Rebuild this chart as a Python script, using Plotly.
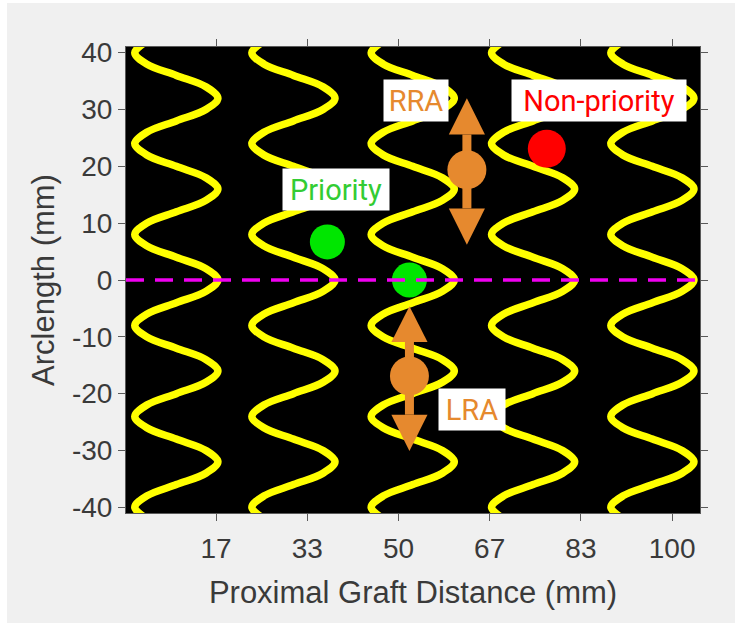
import plotly.graph_objects as go

# ---------------- data (mm) ----------------
ring_centers_mm = [9.4, 30.8, 52.6, 74.6, 96.4]
ring_y_mm = [-42, -40, -38, -36, -34, -32, -30, -28, -26, -24, -22, -20, -18, -16, -14,
             -12, -10, -8, -6, -4, -2, 0, 2, 4, 6, 8, 10, 12, 14, 16, 18, 20, 22, 24,
             26, 28, 30, 32, 34, 36, 38, 40, 42]
ring_offset_mm = [-5.4, -7.6, -5.4, 0.0, 5.4, 7.6, 5.4, 0.0, -5.4, -7.6, -5.4, 0.0, 5.4,
                  7.6, 5.4, 0.0, -5.4, -7.6, -5.4, 0.0, 5.4, 7.6, 5.4, 0.0, -5.4, -7.6,
                  -5.4, 0.0, 5.4, 7.6, 5.4, 0.0, -5.4, -7.6, -5.4, 0.0, 5.4, 7.6, 5.4,
                  0.0, -5.4, -7.6, -5.4]

priority_x = [37.0, 52.0]
priority_y = [6.7, 0.0]
nonpriority_x = [77.1]
nonpriority_y = [23.1]

renal_names = ["RRA", "LRA"]
renal_x = [62.5, 52.0]
renal_y = [19.4, -16.9]
renal_up_tip = [32.0, -4.6]
renal_up_base = [25.6, -10.9]
renal_down_tip = [6.2, -30.1]
renal_down_base = [12.6, -23.7]

x_tick_vals = [100 / 6, 200 / 6, 50.0, 400 / 6, 500 / 6, 100.0]
x_tick_text = ["17", "33", "50", "67", "83", "100"]
y_tick_vals = [-40, -30, -20, -10, 0, 10, 20, 30, 40]
y_tick_text = ["-40", "-30", "-20", "-10", "0", "10", "20", "30", "40"]

labels_text = ["Priority", "RRA", "Non-priority", "LRA"]
labels_x = [38.65, 53.2, 86.6, 63.5]
labels_y = [15.9, 31.5, 31.5, -22.8]

x_range = [0.2, 105.1]
y_range = [-41.0, 41.0]

# ---------------- styles ----------------
YELLOW = "#ffff00"
MAGENTA = "#f000f0"
GREEN = "#00e600"
RED = "#ff0000"
ORANGE = "#e6892e"
label_colors = ["#33cc33", ORANGE, RED, ORANGE]
label_widths = [106, 64, 174, 66]
HEAD_HALF_W = 3.3
AX_FONT = "Liberation Sans, Arial, Helvetica, sans-serif"
TXT = "#3a3a3a"

fig = go.Figure()

for c in ring_centers_mm:
    fig.add_trace(go.Scatter(
        x=[c + o for o in ring_offset_mm], y=ring_y_mm, mode="lines",
        line=dict(color=YELLOW, width=7.5, shape="spline", smoothing=1.0),
        hoverinfo="skip", showlegend=False))

# renal arteries: shafts, heads, centre dots
for i in range(len(renal_names)):
    cx = renal_x[i]
    fig.add_trace(go.Scatter(
        x=[cx, cx], y=[renal_down_base[i], renal_up_base[i]], mode="lines",
        line=dict(color=ORANGE, width=9), showlegend=False, hoverinfo="skip"))
    for tip, base in ((renal_up_tip[i], renal_up_base[i]),
                      (renal_down_tip[i], renal_down_base[i])):
        fig.add_trace(go.Scatter(
            x=[cx - HEAD_HALF_W, cx + HEAD_HALF_W, cx, cx - HEAD_HALF_W],
            y=[base, base, tip, base], mode="lines", fill="toself",
            fillcolor=ORANGE, line=dict(color=ORANGE, width=0),
            showlegend=False, hoverinfo="skip"))
fig.add_trace(go.Scatter(
    x=renal_x, y=renal_y, mode="markers",
    marker=dict(color=ORANGE, size=39, line=dict(width=0)),
    showlegend=False, name="renal"))

fig.add_trace(go.Scatter(
    x=priority_x, y=priority_y, mode="markers",
    marker=dict(color=GREEN, size=35, line=dict(width=0)),
    showlegend=False, name="Priority"))
fig.add_trace(go.Scatter(
    x=nonpriority_x, y=nonpriority_y, mode="markers",
    marker=dict(color=RED, size=38, line=dict(width=0)),
    showlegend=False, name="Non-priority"))

# dashed reference line at 0
fig.add_trace(go.Scatter(
    x=x_range, y=[0, 0], mode="lines",
    line=dict(color=MAGENTA, width=3.5, dash="18px,11px"),
    showlegend=False, hoverinfo="skip"))

for t, lx, ly, col, w in zip(labels_text, labels_x, labels_y, label_colors, label_widths):
    fig.add_annotation(
        x=lx, y=ly, xref="x", yref="y", text=t, showarrow=False,
        font=dict(family="Roboto, Noto Sans, sans-serif", size=29, color=col),
        bgcolor="white", borderpad=0, width=w, height=41,
        xanchor="center", yanchor="middle")

# white outer strips of the figure
fig.add_shape(type="rect", xref="paper", yref="paper",
              x0=-126 / 574, x1=-119 / 574, y0=-110 / 466, y1=1 + 47 / 466,
              fillcolor="white", line=dict(width=0), layer="below")
fig.add_shape(type="rect", xref="paper", yref="paper",
              x0=-126 / 574, x1=1 + 35 / 574, y0=1 + 44 / 466, y1=1 + 47 / 466,
              fillcolor="white", line=dict(width=0), layer="below")

axis_common = dict(
    showgrid=False, zeroline=False, showline=True, linecolor="#5a5a5a", linewidth=1,
    ticks="outside", ticklen=7, tickwidth=1, tickcolor="#5a5a5a", mirror="ticks",
    tickfont=dict(family=AX_FONT, size=28, color=TXT),
)

fig.update_layout(
    width=735, height=623,
    margin=dict(l=126, r=35, t=47, b=110),
    paper_bgcolor="#f0f0f0", plot_bgcolor="black",
    xaxis=dict(range=x_range, tickvals=x_tick_vals, ticktext=x_tick_text,
               title=dict(text="Proximal Graft Distance (mm)", standoff=18,
                          font=dict(family=AX_FONT, size=31, color=TXT)),
               ticklabelstandoff=3,
               **axis_common),
    yaxis=dict(range=y_range, tickvals=y_tick_vals, ticktext=y_tick_text,
               title=dict(text="Arclength (mm)", standoff=8,
                          font=dict(family=AX_FONT, size=31, color=TXT)),
               **axis_common),
)

fig.write_html("out.html")
